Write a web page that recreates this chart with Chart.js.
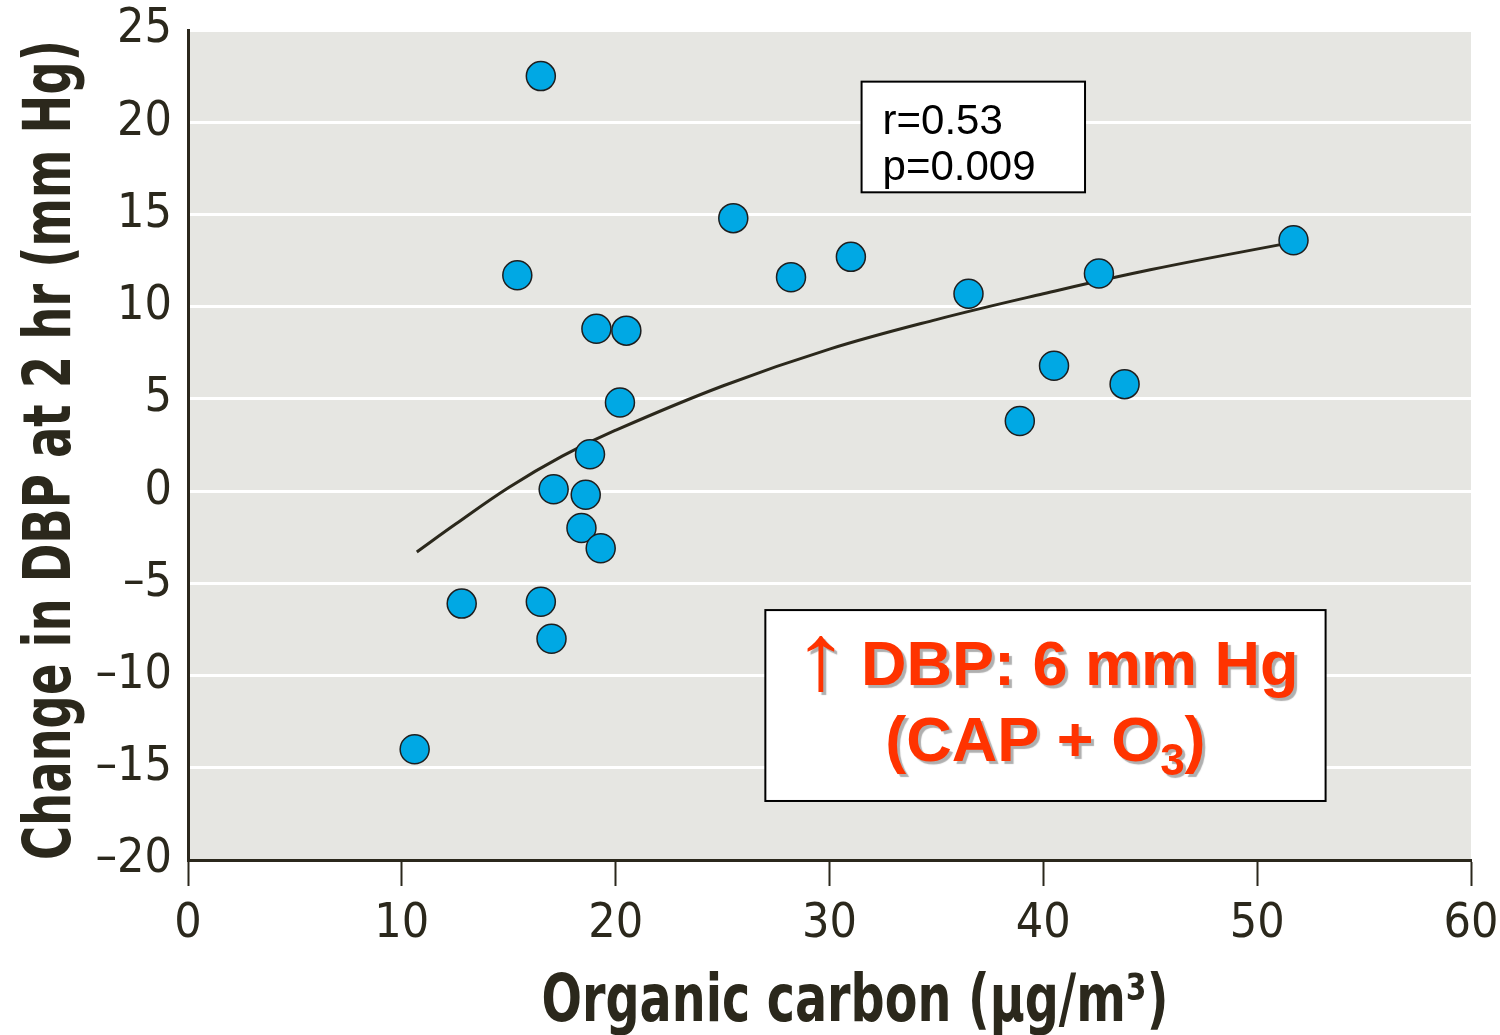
<!DOCTYPE html>
<html>
<head>
<meta charset="utf-8">
<script src="https://cdn.jsdelivr.net/npm/chart.js@4/dist/chart.umd.min.js"></script>
<style>
  html, body { margin: 0; padding: 0; background: #fff; }
</style>
</head>
<body>
<canvas id="chart" width="1500" height="1035"></canvas>
<script>
// organic carbon (µg/m3) vs change in DBP at 2 hr, one point per exposure
const carbon    = [16.5, 25.5, 15.4, 28.2, 31.0, 36.5, 42.6, 51.7, 19.1, 20.5, 20.2, 40.5, 43.8, 38.9, 18.8, 17.1, 18.6, 18.4, 19.3, 12.8, 16.5, 17.0, 10.6];
const dbpChange = [22.5, 14.8, 11.7, 11.6, 12.7, 10.7, 11.8, 13.6,  8.8,  8.7,  4.8,  6.8,  5.8,  3.8,  2.0,  0.1, -0.2, -2.0, -3.1, -6.1, -6.0, -8.0, -14.0];

const fitX = [10.7, 12.5, 15, 17.5, 20, 25, 30, 35, 40, 45, 51.7];
const fitY = [-3.3, -1.8, 0.2, 1.9, 3.3, 5.7, 7.7, 9.3, 10.7, 12.0, 13.5];

const xTicks = [0, 10, 20, 30, 40, 50, 60];
const yTicks = [-20, -15, -10, -5, 0, 5, 10, 15, 20, 25];

const statLines = ['r=0.53', 'p=0.009'];

const ink = '#2b281c';
const narrow = '"Liberation Sans Narrow", "DejaVu Sans Condensed", "Arial Narrow", sans-serif';

// draw text squeezed/stretched to a given width, centred on x
function fitText(ctx, text, x, y, width) {
  const w = ctx.measureText(text).width;
  ctx.save();
  ctx.translate(x, y);
  ctx.scale(width / w, 1);
  ctx.textAlign = 'center';
  ctx.fillText(text, 0, 0);
  ctx.restore();
}

const frame = {
  id: 'frame',
  beforeDraw(chart) {
    const { ctx, chartArea: a } = chart;
    ctx.save();
    ctx.fillStyle = '#e6e6e2';
    ctx.fillRect(a.left, a.top, a.right - a.left, a.bottom - a.top);
    ctx.restore();
  },
  afterDraw(chart) {
    const { ctx } = chart;
    const xs = chart.scales.x, ys = chart.scales.y;

    // axis titles
    ctx.save();
    ctx.fillStyle = ink;
    ctx.textBaseline = 'alphabetic';
    ctx.font = 'bold 66px ' + narrow;
    fitText(ctx, 'Organic carbon (\u03bcg/m\u00b3)', 855, 1021, 627);
    ctx.translate(70, 450);
    ctx.rotate(-Math.PI / 2);
    fitText(ctx, 'Change in DBP at 2 hr (mm Hg)', 0, 0, 820);
    ctx.restore();

    // r / p box
    let l = xs.getPixelForValue(31.5), r = xs.getPixelForValue(41.95);
    let t = ys.getPixelForValue(22.2), b = ys.getPixelForValue(16.2);
    ctx.save();
    ctx.fillStyle = '#fff';
    ctx.fillRect(l, t, r - l, b - t);
    ctx.strokeStyle = '#000';
    ctx.lineWidth = 2;
    ctx.strokeRect(l, t, r - l, b - t);
    ctx.fillStyle = '#000';
    ctx.font = '42px "Liberation Sans", Arial, sans-serif';
    ctx.textAlign = 'left';
    statLines.forEach((s, i) => ctx.fillText(s, l + 21, t + 52 + i * 46));
    ctx.restore();

    // effect box
    l = xs.getPixelForValue(27.0); r = xs.getPixelForValue(53.2);
    t = ys.getPixelForValue(-6.45); b = ys.getPixelForValue(-16.8);
    ctx.save();
    ctx.fillStyle = '#fff';
    ctx.fillRect(l, t, r - l, b - t);
    ctx.strokeStyle = '#000';
    ctx.lineWidth = 2;
    ctx.strokeRect(l, t, r - l, b - t);

    const cx = (l + r) / 2;
    ctx.fillStyle = '#ff3300';
    ctx.shadowColor = 'rgba(110,110,110,0.55)';
    ctx.shadowOffsetX = 3;
    ctx.shadowOffsetY = 3;
    ctx.shadowBlur = 1;
    ctx.textAlign = 'left';
    const big = 'bold 63px "Liberation Sans", Arial, sans-serif';
    const thin = '63px "Liberation Sans", "DejaVu Sans", sans-serif';
    const sub = 'bold 44px "Liberation Sans", Arial, sans-serif';

    // line 1: tall thin arrow + DBP: 6 mm Hg
    const y1 = t + 75;
    const ax = 1.8, ay = 1.5;
    ctx.font = thin;
    const arrowW = ctx.measureText('\u2191').width * ax;
    ctx.font = big;
    const mainW = ctx.measureText('DBP: 6 mm Hg').width;
    const gap = 12;
    let x0 = cx - (arrowW + gap + mainW) / 2;
    ctx.save();
    ctx.font = thin;
    ctx.translate(x0, y1 + 4);
    ctx.scale(ax, ay);
    ctx.fillText('\u2191', 0, 0);
    ctx.restore();
    ctx.font = big;
    ctx.fillText('DBP: 6 mm Hg', x0 + arrowW + gap, y1);

    // line 2: (CAP + O3)
    const y2 = t + 151;
    ctx.font = big;
    const aW = ctx.measureText('(CAP + O').width;
    const pW = ctx.measureText(')').width;
    ctx.font = sub;
    const sW = ctx.measureText('3').width;
    x0 = cx - (aW + sW + pW) / 2;
    ctx.font = big;
    ctx.fillText('(CAP + O', x0, y2);
    ctx.font = sub;
    ctx.fillText('3', x0 + aW, y2 + 14);
    ctx.font = big;
    ctx.fillText(')', x0 + aW + sW, y2);
    ctx.restore();
  }
};

const dash = v => (v < 0 ? '\u2013' + Math.abs(v) : String(v));

new Chart(document.getElementById('chart'), {
  type: 'scatter',
  data: {
    datasets: [
      {
        type: 'line',
        data: fitX.map((x, i) => ({ x, y: fitY[i] })),
        borderColor: ink,
        borderWidth: 3,
        pointRadius: 0,
        tension: 0.4,
        fill: false,
        order: 2
      },
      {
        data: carbon.map((x, i) => ({ x, y: dbpChange[i] })),
        backgroundColor: '#00a8e4',
        borderColor: '#1e1e1e',
        borderWidth: 1.5,
        pointRadius: 14.5,
        order: 1
      }
    ]
  },
  options: {
    responsive: false,
    animation: false,
    layout: { padding: { top: 30, right: 29, left: 0, bottom: 0 } },
    plugins: { legend: { display: false }, tooltip: { enabled: false } },
    scales: {
      x: {
        type: 'linear',
        min: 0, max: 60,
        afterBuildTicks: s => { s.ticks = xTicks.map(v => ({ value: v })); },
        afterFit: s => { s.height = 175; s.paddingLeft = 0; s.paddingRight = 0; },
        grid: { drawOnChartArea: false, drawTicks: true, tickLength: 26, tickWidth: 2, tickColor: ink },
        border: { color: ink, width: 3 },
        ticks: { padding: 10, color: ink, maxRotation: 0, autoSkip: false, font: { family: narrow, size: 48 }, callback: dash }
      },
      y: {
        min: -20, max: 25,
        afterBuildTicks: s => { s.ticks = yTicks.map(v => ({ value: v })); },
        afterFit: s => { s.width = 188; s.paddingTop = 0; s.paddingBottom = 0; },
        grid: { color: '#ffffff', lineWidth: 3, drawTicks: false },
        border: { color: ink, width: 3 },
        ticks: { padding: 16, color: ink, autoSkip: false, font: { family: narrow, size: 48 }, callback: dash }
      }
    }
  },
  plugins: [frame]
});
</script>
</body>
</html>
